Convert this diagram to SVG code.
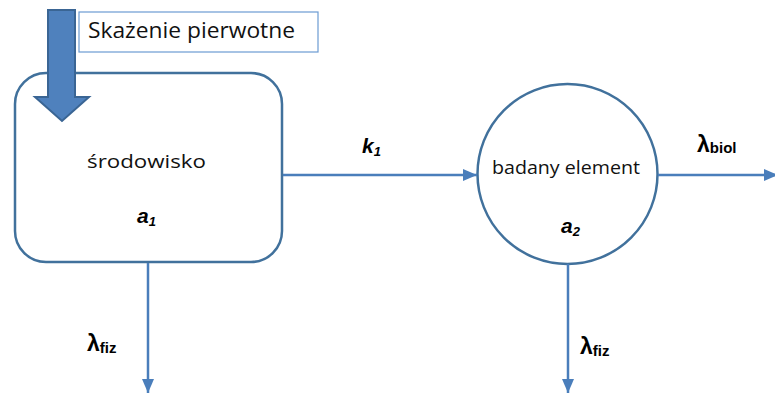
<svg xmlns="http://www.w3.org/2000/svg" width="775" height="393" viewBox="0 0 775 393">
<defs>
<marker id="ah" viewBox="0 0 14 12" refX="14" refY="6" markerWidth="14" markerHeight="12" markerUnits="userSpaceOnUse" orient="auto">
<path d="M0,0 L14,6 L0,12 z" fill="#4A7EBB"/>
</marker>
<style>
.node{fill:#fff;stroke:#41719C;stroke-width:2.5}
.conn{stroke:#4A7EBB;stroke-width:2.5;fill:none;marker-end:url(#ah)}
.t{font-family:"Open Sans","Liberation Sans",sans-serif;fill:#111}
.v{font-family:"Liberation Sans",sans-serif;font-weight:bold;font-style:italic;fill:#000}
.l{font-family:"Liberation Sans",sans-serif;font-weight:bold;fill:#000}
</style>
</defs>
<rect width="775" height="393" fill="#fff"/>
<g id="srodowisko">
<rect class="node" x="15" y="73" width="267" height="189" rx="31" ry="31"/>
<text class="t" x="87" y="168" font-size="19" textLength="119" lengthAdjust="spacingAndGlyphs">środowisko</text>
<text class="v" x="137" y="223" font-size="21">a<tspan font-size="13" dy="3">1</tspan></text>
</g>
<g id="badany">
<circle class="node" cx="567.5" cy="174" r="90"/>
<text class="t" x="492" y="174" font-size="18" textLength="148" lengthAdjust="spacingAndGlyphs">badany element</text>
<text class="v" x="561" y="233" font-size="21">a<tspan font-size="13" dy="3">2</tspan></text>
</g>
<g id="skazenie">
<rect x="79" y="12" width="239" height="40" fill="#fff" stroke="#6C9BD2" stroke-width="1.2"/>
<text class="t" x="88" y="38" font-size="21" textLength="207" lengthAdjust="spacingAndGlyphs">Skażenie pierwotne</text>
</g>
<g id="input-arrow">
<path d="M48,10 L75,10 L75,97 L89,97 L62,121 L35,97 L48,97 Z" fill="#4F81BD" stroke="#3A6594" stroke-width="2"/>
</g>
<g id="connectors">
<line class="conn" x1="283" y1="175" x2="477" y2="175"/>
<line class="conn" x1="658" y1="175" x2="778" y2="175"/>
<line class="conn" x1="148" y1="263" x2="148" y2="393"/>
<line class="conn" x1="568" y1="264" x2="568" y2="393"/>
</g>
<g id="labels">
<text class="v" x="362" y="153" font-size="21">k<tspan font-size="13" dy="3">1</tspan></text>
<text class="l" x="697" y="152" font-size="23">λ<tspan font-size="15" dy="1">biol</tspan></text>
<text class="l" x="87" y="351" font-size="23">λ<tspan font-size="15" dy="2">fiz</tspan></text>
<text class="l" x="580" y="354" font-size="23">λ<tspan font-size="15" dy="2">fiz</tspan></text>
</g>
</svg>
